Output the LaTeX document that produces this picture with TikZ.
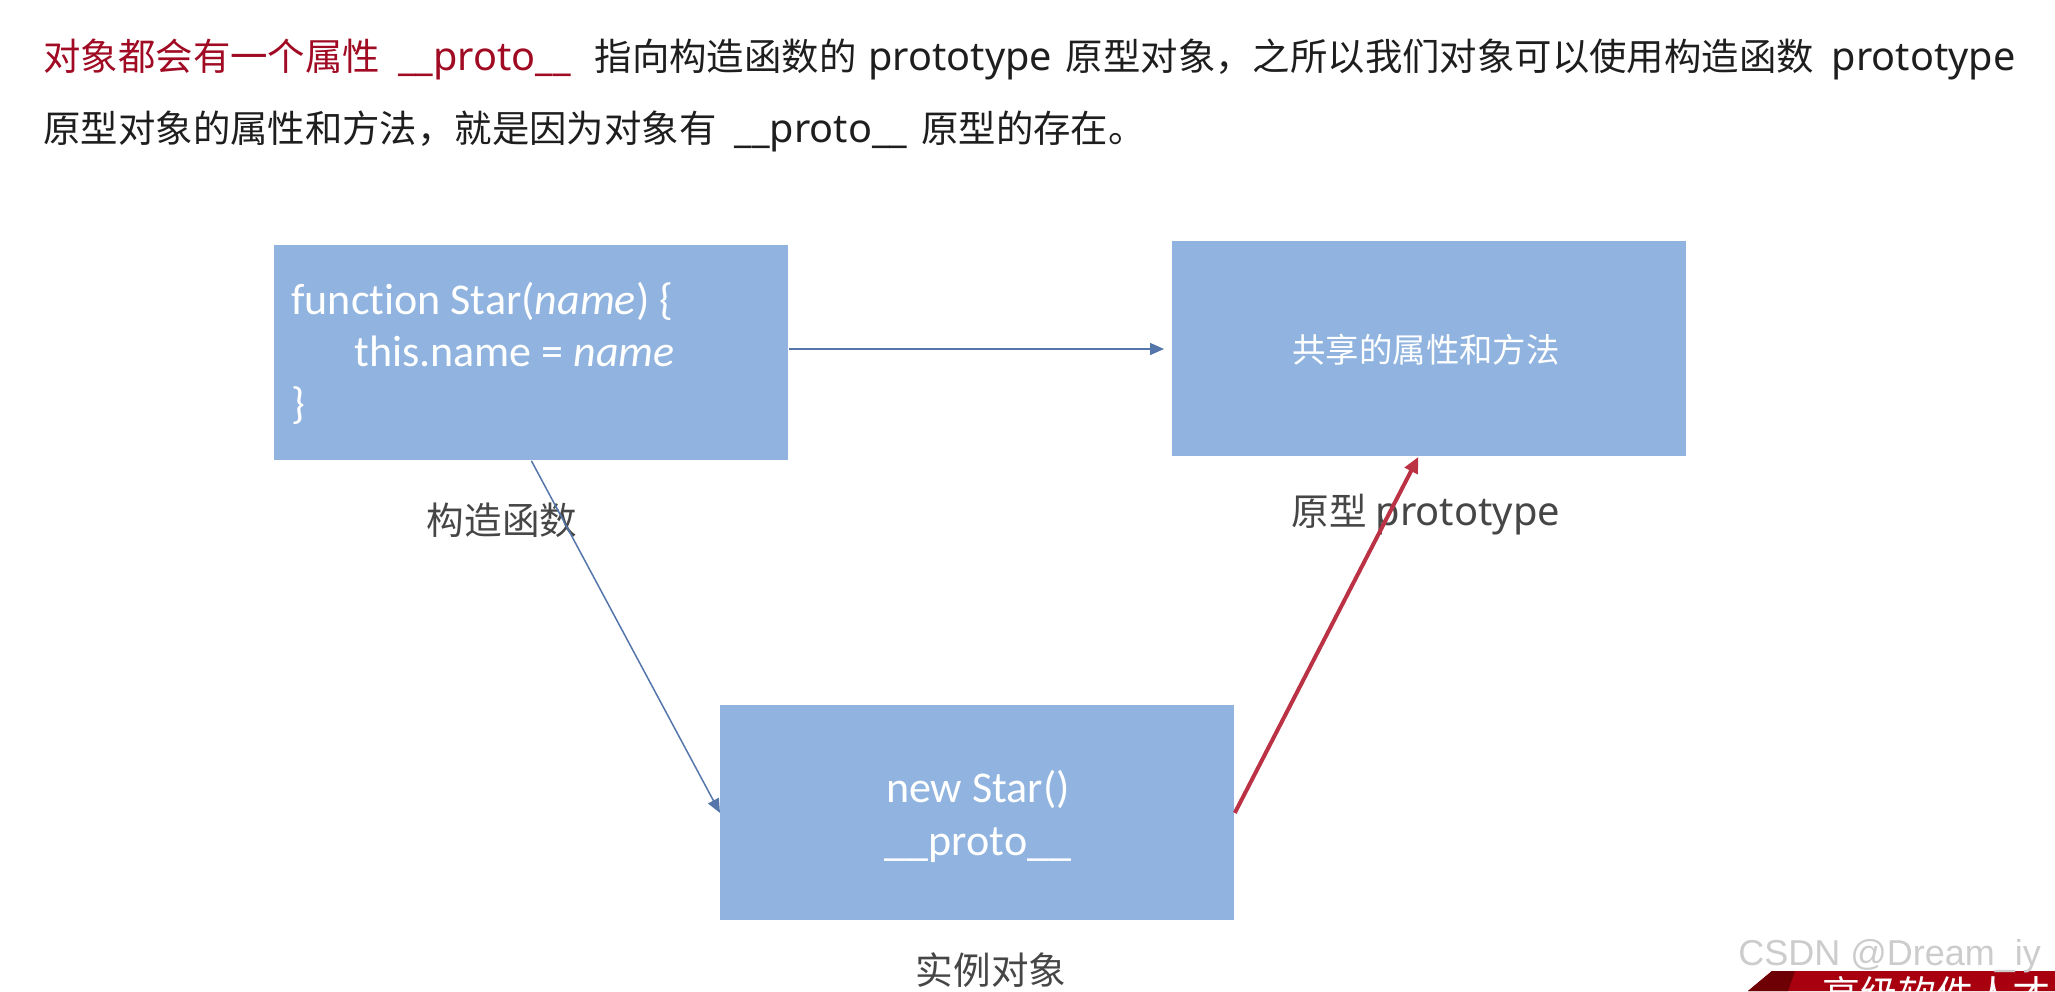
\documentclass[tikz,border=0pt]{standalone}
\usepackage{fontspec}
\setmainfont{Carlito}[Ligatures=NoCommon]
\newfontfamily\cjk{Noto Sans CJK SC}
\newfontfamily\lat{Noto Sans}[Scale=1.06]
\newfontfamily\wmfont{Liberation Sans}
\usepackage{xcolor}
\usetikzlibrary{arrows.meta}

\definecolor{boxblue}{RGB}{144,180,223}
\definecolor{introred}{RGB}{160,10,35}
\definecolor{introblack}{RGB}{30,30,30}
\definecolor{labelgray}{RGB}{70,70,70}
\definecolor{linkblue}{RGB}{84,118,170}
\definecolor{protored}{RGB}{186,50,68}
\definecolor{bannerred}{RGB}{168,0,15}
\definecolor{bannerdark}{RGB}{110,0,5}

\begin{document}
\begin{tikzpicture}[>=Stealth, x=0.5pt, y=-0.5pt,
    objbox/.style={fill=boxblue, inner sep=0pt, minimum width=257pt, minimum height=107.5pt, anchor=north west},
    codetext/.style={text=white, font=\fontsize{22}{26}\selectfont},
    caption/.style={text=labelgray, font=\cjk\fontsize{18.8}{22}\selectfont},
    intro/.style={anchor=west, text=introblack, font=\cjk\fontsize{18.7}{22}\selectfont, inner sep=0pt},
    link/.style={->, draw=linkblue, line width=0.75pt, >={Triangle[length=7pt, width=6pt]}},
    protolink/.style={->, draw=protored, line width=2pt, >={Triangle[length=8pt, width=7pt]}}]
    \useasboundingbox (0,0) rectangle (2055,991);

    % Intro text
    \node[intro] (line1) at (43,59) {\textcolor{introred}{对象都会有一个属性\hspace{9pt}{\lat\_\_proto\_\_}}\hspace{12pt}指向构造函数的\hspace{6pt}{\lat prototype}\hspace{7pt}原型对象，之所以我们对象可以使用构造函数\hspace{9pt}{\lat prototype}};
    \node[intro] (line2) at (43,131) {原型对象的属性和方法，就是因为对象有\hspace{9pt}{\lat\_\_proto\_\_}\hspace{7pt}原型的存在。};

    % Constructor
    \node[objbox] (ctor) at (274,245) {};
    \node[codetext, anchor=west, align=left, inner sep=0pt] (ctorcode) at (291,353) {function Star(\textit{name}) \{\\\hspace*{31.5pt}this.name = \textit{name}\\\}};
    \node[caption] (ctorlabel) at (502,520) {构造函数};

    % Prototype
    \node[objbox] (proto) at (1172,241) {};
    \node[text=white, font=\cjk\fontsize{16.7}{20}\selectfont] (protocode) at (1426,350) {共享的属性和方法};
    \node[caption] (protolabel) at (1426,515) {原型 {\lat prototype}};

    % Instance
    \node[objbox] (inst) at (720,705) {};
    \node[codetext, align=center, font=\fontsize{22}{26.5}\selectfont] (instcode) at (978,816) {new Star()\\\_\_proto\_\_};
    \node[caption] (instlabel) at (991,970) {实例对象};

    % Links
    \draw[link, shorten >=4pt] (ctor.east |- 0,349) -- (proto.west |- 0,349);
    \draw[link] (ctor.south) -- (inst.west);
    \draw[protolink] (inst.east) -- ([xshift=-5.5pt]proto.south);

    % Watermark
    \fill[bannerred] (1772,971) -- (2055,971) -- (2055,991) -- (1748,991) -- cycle;
    \fill[bannerdark] (1772,971) -- (1795,971) -- (1788,991) -- (1748,991) -- cycle;
    \node[anchor=north west, inner sep=0pt, text=white, font=\cjk\fontsize{19}{22}\selectfont] (banner) at (1822,976) {高级软件人才};
    \node[anchor=base west, inner sep=0pt, text=black!20, font=\wmfont\fontsize{18}{20}\selectfont] (mark) at (1738,965) {CSDN @Dream\_iy};
\end{tikzpicture}
\end{document}
